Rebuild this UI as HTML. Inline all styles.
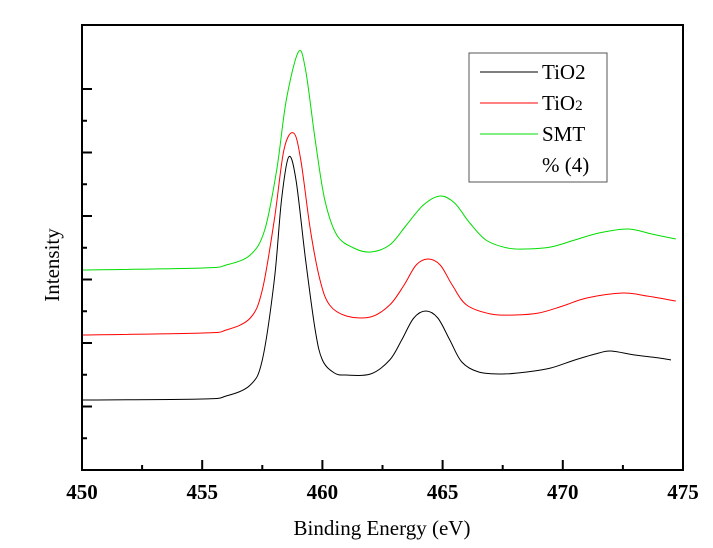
<!DOCTYPE html>
<html><head><meta charset="utf-8"><style>
body{margin:0;background:#fff;}
svg{display:block;font-family:"Liberation Serif",serif;}
</style></head><body>
<svg id="chart" width="713" height="548">
<g id="ticks"></g>
<g id="series"></g>
<rect x="82" y="25" width="601" height="445" fill="none" stroke="#000" stroke-width="2"/>
<text x="382" y="535" font-size="21" text-anchor="middle">Binding Energy (eV)</text>
<text transform="translate(59,265) rotate(-90)" font-size="21" text-anchor="middle">Intensity</text>
<g>
<rect x="469" y="53" width="138" height="129" fill="#fff" stroke="#555" stroke-width="1"/>
<line x1="480" y1="72" x2="538" y2="72" stroke="#000"/>
<text x="542" y="79" font-size="21">TiO2</text>
<line x1="480" y1="103" x2="538" y2="103" stroke="#ff0000"/>
<text x="542" y="110" font-size="21">TiO<tspan font-size="15">2</tspan></text>
<line x1="480" y1="134" x2="538" y2="134" stroke="#00dd00"/>
<text x="542" y="141" font-size="21">SMT</text>
<text x="542" y="172" font-size="21">% (4)</text>
</g>
</svg>
<script>
const xTicks=[450,455,460,465,470,475];
const blackE=[450,455,456,457,457.5,458,458.3,458.6,458.9,459.3,459.7,460,460.5,461,462,462.8,463.3,463.8,464.3,464.8,465.3,465.8,466.5,467.5,468.5,469.5,470.5,471.5,472,473,474,474.5];
const blackI=[70,71,74,85,110,190,270,313,290,210,140,110,97,95,96,110,130,152,159,152,130,108,98,96,98,102,110,117,119,115,112,110];
const redE=[450,455,456,457,457.5,458,458.4,458.8,459.1,459.5,459.9,460.3,461,462,462.8,463.4,463.9,464.4,464.9,465.4,466,467,468,469,470,471,472.5,473.5,474.7];
const redI=[135,137,140,152,180,250,320,337,310,240,190,165,154,153,165,185,205,211,205,185,165,156,155,157,164,172,177,174,169];
const greenE=[450,455,456,457,457.6,458.1,458.5,459,459.3,459.7,460.1,460.6,461.3,462,462.8,463.5,464.2,464.9,465.5,466.1,466.8,467.7,468.5,469.5,470.5,471.5,472.7,473.7,474.7];
const greenI=[200,202,205,215,240,300,370,418,400,330,270,235,222,218,225,245,265,274,267,248,230,222,221,223,230,237,241,236,231];
const X0=82,X1=683,Y0=470,Y1=25;
function xs(v){return X0+(v-450)/(475-450)*(X1-X0);}
function ys(v){return Y0-v/445*(Y0-Y1);}
const NS="http://www.w3.org/2000/svg";
const tg=document.getElementById('ticks');
function ln(x1,y1,x2,y2,name){const l=document.createElementNS(NS,'line');l.setAttribute('x1',x1);l.setAttribute('y1',y1);l.setAttribute('x2',x2);l.setAttribute('y2',y2);l.setAttribute('stroke','#000');l.setAttribute('stroke-width','2');


tg.appendChild(l);}
for(let v=450;v<=475;v+=2.5){const x=xs(v);const major=(v%5===0);ln(x,Y0,x,Y0-(major?10:5),major?'x-tick-major':'x-tick-minor');}
xTicks.forEach(v=>{const t=document.createElementNS(NS,'text');t.setAttribute('x',xs(v));t.setAttribute('y',499);t.setAttribute('font-size','21');t.setAttribute('font-weight','bold');t.setAttribute('text-anchor','middle');t.textContent=v;


tg.appendChild(t);});
for(let i=1;i<=12;i++){const y=Y0-i*31.75;const major=(i%2===0);ln(X0,y,X0+(major?10:5),y,major?'y-tick-major':'y-tick-minor');}
const sg=document.getElementById('series');
function draw(E,I,color,name){
  const P=E.map((e,i)=>[xs(e),ys(I[i])]);
  let d='M'+P[0][0].toFixed(1)+','+P[0][1].toFixed(1);
  for(let i=0;i<P.length-1;i++){
    const p0=P[Math.max(0,i-1)],p1=P[i],p2=P[i+1],p3=P[Math.min(P.length-1,i+2)];
    const c1=[p1[0]+(p2[0]-p0[0])/6,p1[1]+(p2[1]-p0[1])/6];
    const c2=[p2[0]-(p3[0]-p1[0])/6,p2[1]-(p3[1]-p1[1])/6];
    d+=' C'+c1[0].toFixed(1)+','+c1[1].toFixed(1)+' '+c2[0].toFixed(1)+','+c2[1].toFixed(1)+' '+p2[0].toFixed(1)+','+p2[1].toFixed(1);
  }
  const p=document.createElementNS(NS,'path');p.setAttribute('d',d);p.setAttribute('fill','none');p.setAttribute('stroke',color);p.setAttribute('stroke-width','1');
  
  
  sg.appendChild(p);}
draw(greenE,greenI,'#00dd00','series-smt');
draw(redE,redI,'#ff0000','series-tio2-b');
draw(blackE,blackI,'#000','series-tio2');
</script>
</body></html>
